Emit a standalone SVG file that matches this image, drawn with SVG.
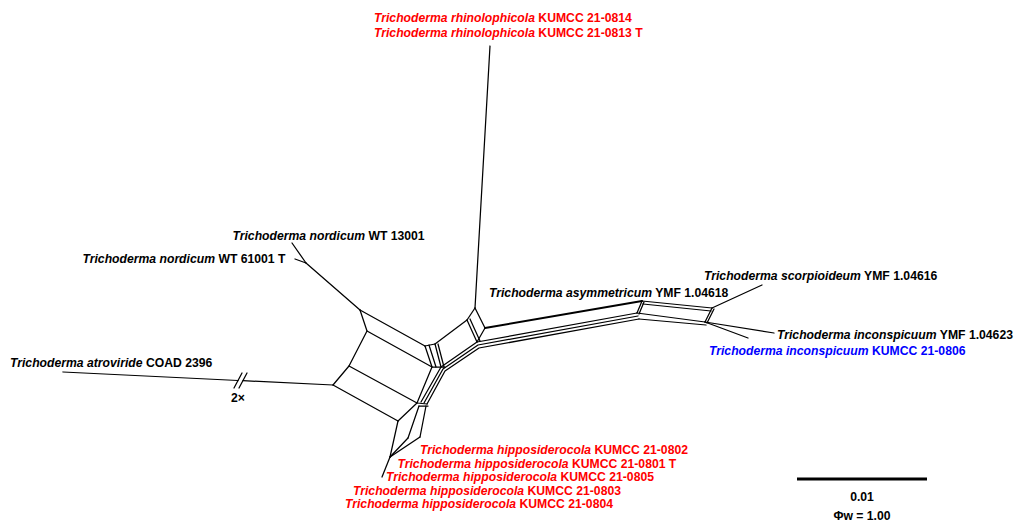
<svg xmlns="http://www.w3.org/2000/svg" width="1015" height="523" viewBox="0 0 1015 523">
<style>
.e{stroke:#000;stroke-width:1.25;fill:none;stroke-linecap:round;stroke-linejoin:round}
.th{stroke-width:2.1}
text{font-family:"Liberation Sans",Arial,sans-serif;font-weight:bold;font-size:12.2px;fill:#000}
.i{font-style:italic}
.red{fill:#ff0000}
.blue{fill:#0000ff}
.c{text-anchor:middle}
</style>
<rect width="1015" height="523" fill="#fff"/>
<g id="connectors" class="e">
<line x1="292" y1="243" x2="306" y2="263"/>
<line x1="295" y1="259" x2="306" y2="263"/>
<line x1="306" y1="263" x2="360" y2="310"/>
<polyline points="360,310 367,331 349,366 333,385"/>
<line x1="360" y1="310" x2="425" y2="346"/>
<line x1="367" y1="331" x2="432" y2="367"/>
<line x1="349" y1="366" x2="417" y2="403"/>
<line x1="333" y1="385" x2="398" y2="421"/>
<polyline points="425,346 432,367 417,403 398,421"/>
<line x1="429" y1="345" x2="436" y2="367"/>
<line x1="63" y1="372" x2="238" y2="380.5"/>
<line x1="243" y1="380.7" x2="333" y2="385"/>
<line x1="234" y1="388" x2="242" y2="373"/>
<line x1="239" y1="388" x2="247" y2="373"/>
<line x1="425" y1="346" x2="435" y2="344"/>
<line x1="435" y1="344" x2="441" y2="367"/>
<line x1="438" y1="344" x2="444" y2="367"/>
<line x1="432" y1="367" x2="445" y2="367"/>
<line x1="435" y1="344" x2="467" y2="320"/>
<line x1="467" y1="320" x2="475" y2="308"/>
<line x1="475" y1="308" x2="485" y2="328"/>
<line x1="467" y1="320" x2="477" y2="342"/>
<line x1="470" y1="319" x2="480" y2="341"/>
<line x1="485" y1="328" x2="477" y2="342"/>
<line x1="490" y1="46" x2="475" y2="308"/>
<line class="th" x1="485" y1="328" x2="642" y2="301"/>
<polyline points="637,313 477,342 441,367 421,402"/>
<polyline points="638,316 478,345 443,369 424,403"/>
<polyline points="639,319 479,348 445,371 427,404"/>
<line x1="642" y1="301" x2="637" y2="313"/>
<line x1="644" y1="302" x2="639" y2="314"/>
<line x1="642" y1="301" x2="712" y2="308"/>
<line x1="643" y1="304" x2="711" y2="311"/>
<line x1="637" y1="313" x2="705" y2="322"/>
<line x1="639" y1="319" x2="706" y2="325"/>
<line x1="712" y1="308" x2="705" y2="322"/>
<line x1="714" y1="309" x2="707" y2="323"/>
<line x1="712" y1="308" x2="762" y2="285"/>
<line x1="705" y1="322" x2="774" y2="333"/>
<line x1="705" y1="322" x2="748" y2="338"/>
<line x1="417" y1="403" x2="427" y2="404"/>
<line x1="419" y1="406" x2="428" y2="406"/>
<line x1="419" y1="406" x2="408" y2="438"/>
<line x1="426" y1="406" x2="420" y2="437"/>
<line x1="398" y1="421" x2="390" y2="457"/>
<line x1="408" y1="438" x2="390" y2="457"/>
<line x1="420" y1="437" x2="390" y2="457"/>
<line x1="390" y1="457" x2="382" y2="477"/>
<line x1="797" y1="479" x2="927" y2="479" style="stroke-width:3;stroke-linecap:butt"/>
</g>
<g id="n-rhino1"><text class="red" x="374" y="21.5"><tspan class="i">Trichoderma rhinolophicola</tspan> KUMCC 21-0814</text></g>
<g id="n-rhino2"><text class="red" x="374" y="36.5"><tspan class="i">Trichoderma rhinolophicola</tspan> KUMCC 21-0813 T</text></g>
<g id="n-nord1"><text x="232.5" y="240"><tspan class="i">Trichoderma nordicum</tspan> WT 13001</text></g>
<g id="n-nord2"><text x="82.5" y="263"><tspan class="i">Trichoderma nordicum</tspan> WT 61001  T</text></g>
<g id="n-asym"><text x="489" y="296.5"><tspan class="i">Trichoderma asymmetricum</tspan> YMF 1.04618</text></g>
<g id="n-scorp"><text x="704" y="280"><tspan class="i">Trichoderma scorpioideum</tspan> YMF 1.04616</text></g>
<g id="n-incon1"><text x="777" y="339"><tspan class="i">Trichoderma inconspicuum</tspan> YMF 1.04623</text></g>
<g id="n-incon2"><text class="blue" x="709" y="355"><tspan class="i">Trichoderma inconspicuum</tspan> KUMCC 21-0806</text></g>
<g id="n-atro"><text x="10" y="366.5"><tspan class="i">Trichoderma atroviride</tspan> COAD 2396</text></g>
<g id="n-break"><text x="231" y="401.5">2×</text></g>
<g id="n-hippo1"><text class="red" x="420" y="454"><tspan class="i">Trichoderma hipposiderocola</tspan> KUMCC 21-0802</text></g>
<g id="n-hippo2"><text class="red" x="397.5" y="467.5"><tspan class="i">Trichoderma hipposiderocola</tspan> KUMCC 21-0801 T</text></g>
<g id="n-hippo3"><text class="red" x="386" y="481"><tspan class="i">Trichoderma hipposiderocola</tspan> KUMCC 21-0805</text></g>
<g id="n-hippo4"><text class="red" x="353" y="494.5"><tspan class="i">Trichoderma hipposiderocola</tspan> KUMCC 21-0803</text></g>
<g id="n-hippo5"><text class="red" x="345" y="508"><tspan class="i">Trichoderma hipposiderocola</tspan> KUMCC 21-0804</text></g>
<g id="n-scale"><text class="c" x="862" y="501">0.01</text><text class="c" x="862" y="520">Φw = 1.00</text></g>
</svg>
